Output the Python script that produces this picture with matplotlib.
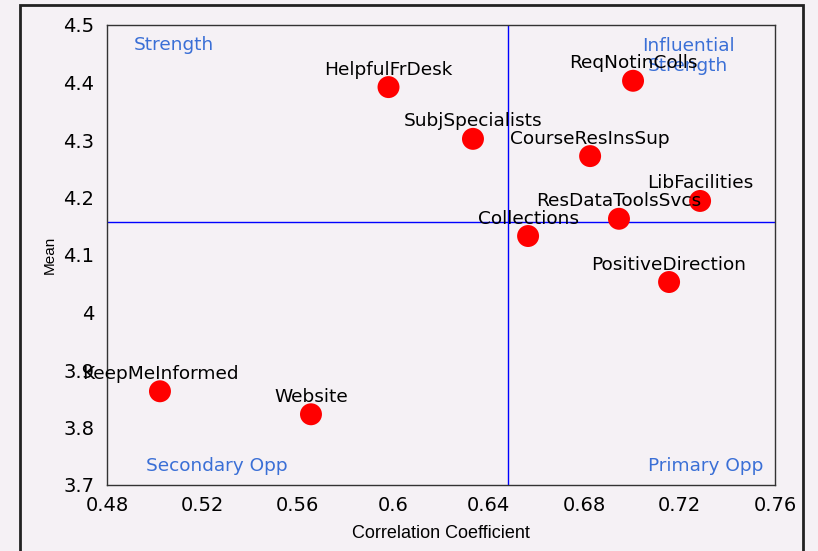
import numpy as np
import matplotlib.pyplot as plt
from matplotlib.patches import Rectangle

# ---- data ----
names = ['HelpfulFrDesk', 'ReqNotinColls', 'SubjSpecialists', 'CourseResInsSup',
         'LibFacilities', 'ResDataToolsSvcs', 'Collections', 'PositiveDirection',
         'KeepMeInformed', 'Website']
corr = [0.598, 0.7005, 0.6334, 0.6825, 0.7286, 0.6946, 0.6565, 0.7156, 0.5022, 0.5655]
mean = [4.392, 4.403, 4.302, 4.272, 4.194, 4.163, 4.133, 4.053, 3.863, 3.823]
corr_cut = 0.648
mean_cut = 4.157
xticks = [0.48, 0.52, 0.56, 0.6, 0.64, 0.68, 0.72, 0.76]
yticks = [3.7, 3.8, 3.9, 4.0, 4.1, 4.2, 4.3, 4.4, 4.5]
ytick_labels = ['3.7', '3.8', '3.9', '4', '4.1', '4.2', '4.3', '4.4', '4.5']

bg = '#f5f1f5'
qcol = '#3a6fd6'

fig = plt.figure(figsize=(8.18, 5.51), dpi=100, facecolor=bg)
ax = fig.add_axes([107/818, 66/551, 668/818, 460/551], facecolor=bg)

# outer frame of the chart
fig.patches.append(Rectangle((20/818, -0.05), 783/818, 1.05 - 5/551, transform=fig.transFigure,
                             fill=False, edgecolor='#222222', linewidth=2))

ax.axvline(corr_cut, color='#0000ff', lw=1, zorder=1)
ax.axhline(mean_cut, color='#0000ff', lw=1, zorder=1)

ax.scatter(corr, mean, s=250, color='#ff0000', edgecolors='none', zorder=3)
for n, x, y in zip(names, corr, mean):
    ax.annotate(n, (x, y), xytext=(0, 9), textcoords='offset points',
                ha='center', va='baseline', fontsize=13.3, color='black', zorder=4)

# quadrant labels
ax.text(0.040, 0.957, 'Strength', transform=ax.transAxes, color=qcol, fontsize=13.3,
        ha='left', va='center')
ax.text(0.870, 0.933, 'Influential\nStrength', transform=ax.transAxes, color=qcol,
        fontsize=13.3, ha='center', va='center', linespacing=1.1)
ax.text(0.058, 0.041, 'Secondary Opp', transform=ax.transAxes, color=qcol, fontsize=13.3,
        ha='left', va='center')
ax.text(0.982, 0.041, 'Primary Opp', transform=ax.transAxes, color=qcol, fontsize=13.3,
        ha='right', va='center')

ax.set_xlim(0.48, 0.76)
ax.set_ylim(3.7, 4.5)
ax.set_xticks(xticks)
ax.set_xticklabels([f'{v:.2f}' if v != 0.6 else '0.6' for v in xticks])
ax.set_yticks(yticks)
ax.set_yticklabels(ytick_labels)
ax.tick_params(length=0, labelsize=14, pad=8)
ax.tick_params(axis='y', pad=9)
for s in ax.spines.values():
    s.set_color('#333333')
    s.set_linewidth(1)

ax.set_xlabel('Correlation Coefficient', fontsize=13, family='Liberation Sans', labelpad=7)
ax.set_ylabel('Mean', fontsize=11, family='Liberation Sans', labelpad=5)

plt.savefig('out.png', dpi=100, facecolor=bg)
plt.close()
